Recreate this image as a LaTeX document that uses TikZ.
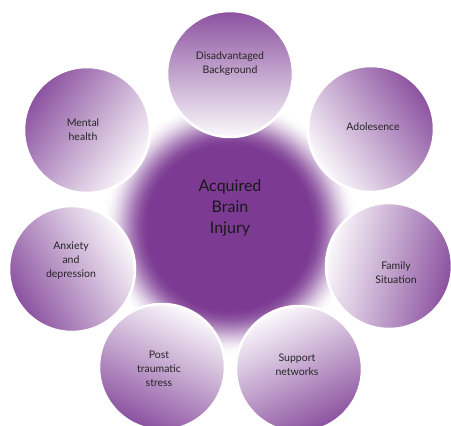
\documentclass[tikz,border=0pt]{standalone}
\usepackage{fontspec}
\setmainfont{Lato}

\definecolor{abipurple}{RGB}{124,58,147}

\tikzset{
  petal/.style={circle, minimum size=126pt, inner sep=0pt,
    draw=white, line width=2.5pt,
    top color=abipurple!88!white, bottom color=abipurple!3!white},
  petal text/.style={align=center, text=black!85,
    font=\fontsize{10.5}{14}\selectfont},
}

\begin{document}
\begin{tikzpicture}[x=1pt,y=-1pt]
  \useasboundingbox (0,0) rectangle (451,426);
  \clip (0,0) rectangle (451,426);

  % centre with a soft halo, built up ring by ring
  \coordinate (hub) at (230,228);
  \foreach \r [evaluate=\r as \p using {50*(1-cos(180*(128-\r)/48))}]
      in {128,127,...,81}
    \fill[abipurple!\p!white] (hub) circle[radius=\r];
  \fill[abipurple] (hub) circle[radius=80];
  \node[align=center, text=black!90, font=\fontsize{16}{21}\selectfont]
    (abi) at (230,208) {Acquired\\Brain\\Injury};

  % surrounding factors
  \node[petal, shading angle=0]    (background) at (230,74)  {};
  \node[petal, shading angle=-55]  (adolescence) at (371,129) {};
  \node[petal, shading angle=-103] (family) at (389,266) {};
  \node[petal, shading angle=-154] (support) at (299,369) {};
  \node[petal, shading angle=154]  (ptsd) at (162,367) {};
  \node[petal, shading angle=120]  (anxiety) at (72,269) {};
  \node[petal, shading angle=55]   (mental) at (87,130) {};

  \node[petal text] (background-t) at (230,64)  {Disadvantaged\\Background};
  \node[petal text] (adolescence-t) at (373,127) {Adolesence};
  \node[petal text] (family-t) at (396,273) {Family\\Situation};
  \node[petal text] (support-t) at (297,365) {Support\\networks};
  \node[petal text] (ptsd-t) at (159,369) {Post\\traumatic\\stress};
  \node[petal text] (anxiety-t) at (71,261) {Anxiety\\and\\depression};
  \node[petal text] (mental-t) at (83,130) {Mental\\health};
\end{tikzpicture}
\end{document}
